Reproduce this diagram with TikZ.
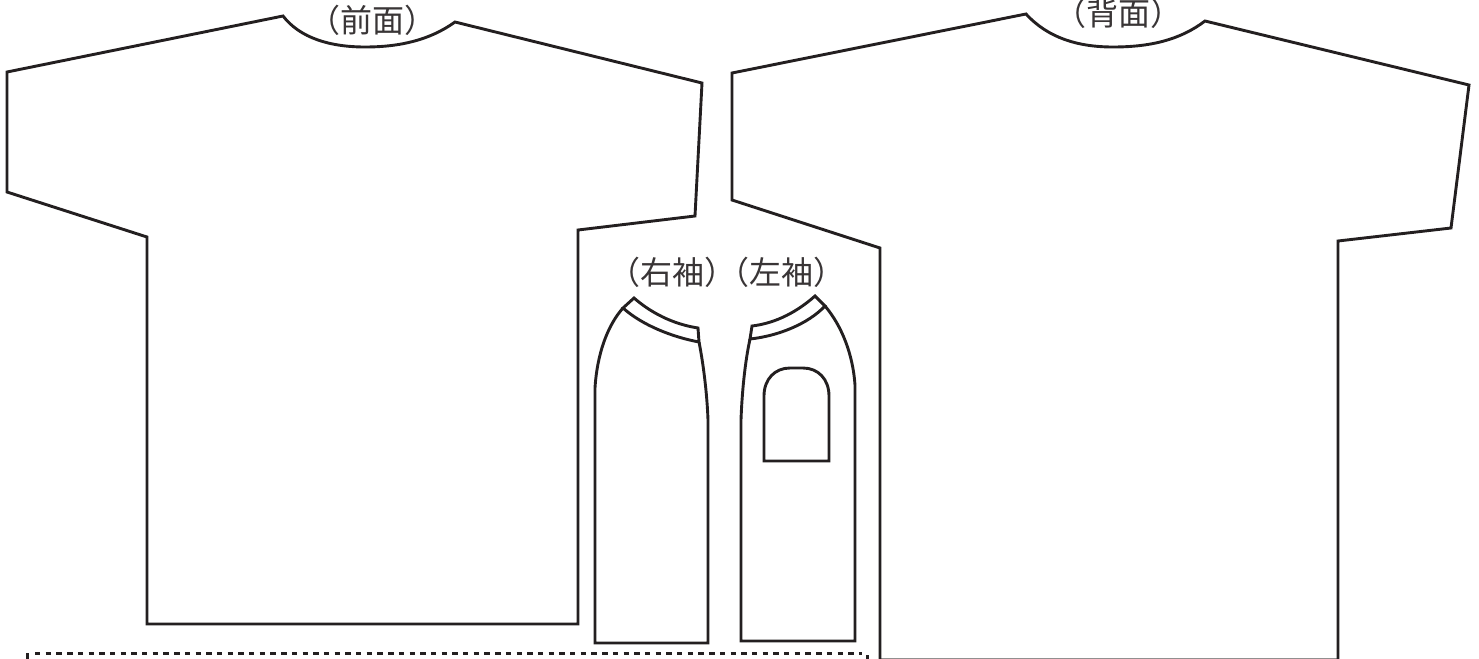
\documentclass[tikz,border=0pt]{standalone}
\usepackage{fontspec}
\newfontfamily\cjk{Noto Sans CJK JP}
\definecolor{ink}{HTML}{231F20}
\tikzset{
  outline/.style={draw=ink,line width=1.45pt,line join=miter},
  label/.style={font=\cjk\fontsize{16}{16}\selectfont,text=ink!90,inner sep=0pt},
  fold/.style={draw=ink,line width=1.5pt,dash pattern=on 2.7pt off 2.65pt}
}
\begin{document}
\begin{tikzpicture}[x=0.5pt,y=-0.5pt]
\useasboundingbox (0,0) rectangle (1479,659);
\clip (0,0) rectangle (1479,659);
% front
\draw[outline] (283,16) -- (7,72) -- (7,192) -- (147,237) -- (147,624) -- (578,624) -- (578,230) -- (695,216) -- (702,83) -- (455,22)
  .. controls (430,40) and (400,47) .. (365,47) .. controls (330,47) and (300,38) .. (283,16) -- cycle;
% back
\draw[draw=ink!50,line width=0.6pt] (880,658.5) -- (1338,658.5);
\draw[outline] (880,662) -- (880,248) -- (732,200) -- (732,73) -- (1026,14)
  .. controls (1048,38) and (1078,47) .. (1113,47) .. controls (1150,47) and (1180,40) .. (1205,21)
  -- (1469,85) -- (1451,228) -- (1338,241) -- (1338,662);
% right sleeve
\draw[outline] (634,298) .. controls (650,312) and (672,324) .. (698,328) -- (699,342)
  .. controls (672,337) and (642,325) .. (623,308) -- cycle;
\draw[outline] (623,308) .. controls (607,326) and (597,355) .. (595,388) -- (595,643) -- (708,643) -- (708,420)
  .. controls (707,392) and (703,362) .. (699,342);
% left sleeve
\draw[outline] (815,296) .. controls (798,311) and (777,323) .. (752,326) -- (750,339)
  .. controls (778,336) and (808,324) .. (825,306) -- cycle;
\draw[outline] (825,306) .. controls (842,326) and (853,355) .. (855,385) -- (855,641) -- (741,641) -- (741,420)
  .. controls (742,392) and (745,362) .. (750,339);
% pocket
\draw[outline] (764,461) -- (764,396) .. controls (764,379) and (775,368) .. (790,368) -- (803,368)
  .. controls (818,368) and (829,379) .. (829,396) -- (829,461) -- cycle;
% fold line
\draw[fold,dash pattern=] (27.5,658.5) -- (27.5,652.5);
\draw[fold] (35,653) -- (862,653);
\draw[fold,dash pattern=] (867,660) -- (867,654.5);
% labels
\node[label] (front) at (372.5,20) {（前面）};
\node[label] (back) at (1118,13) {（背面）};
\node[label] (rs) at (672,272) {（右袖）};
\node[label] (ls) at (781,272) {（左袖）};
\end{tikzpicture}
\end{document}
